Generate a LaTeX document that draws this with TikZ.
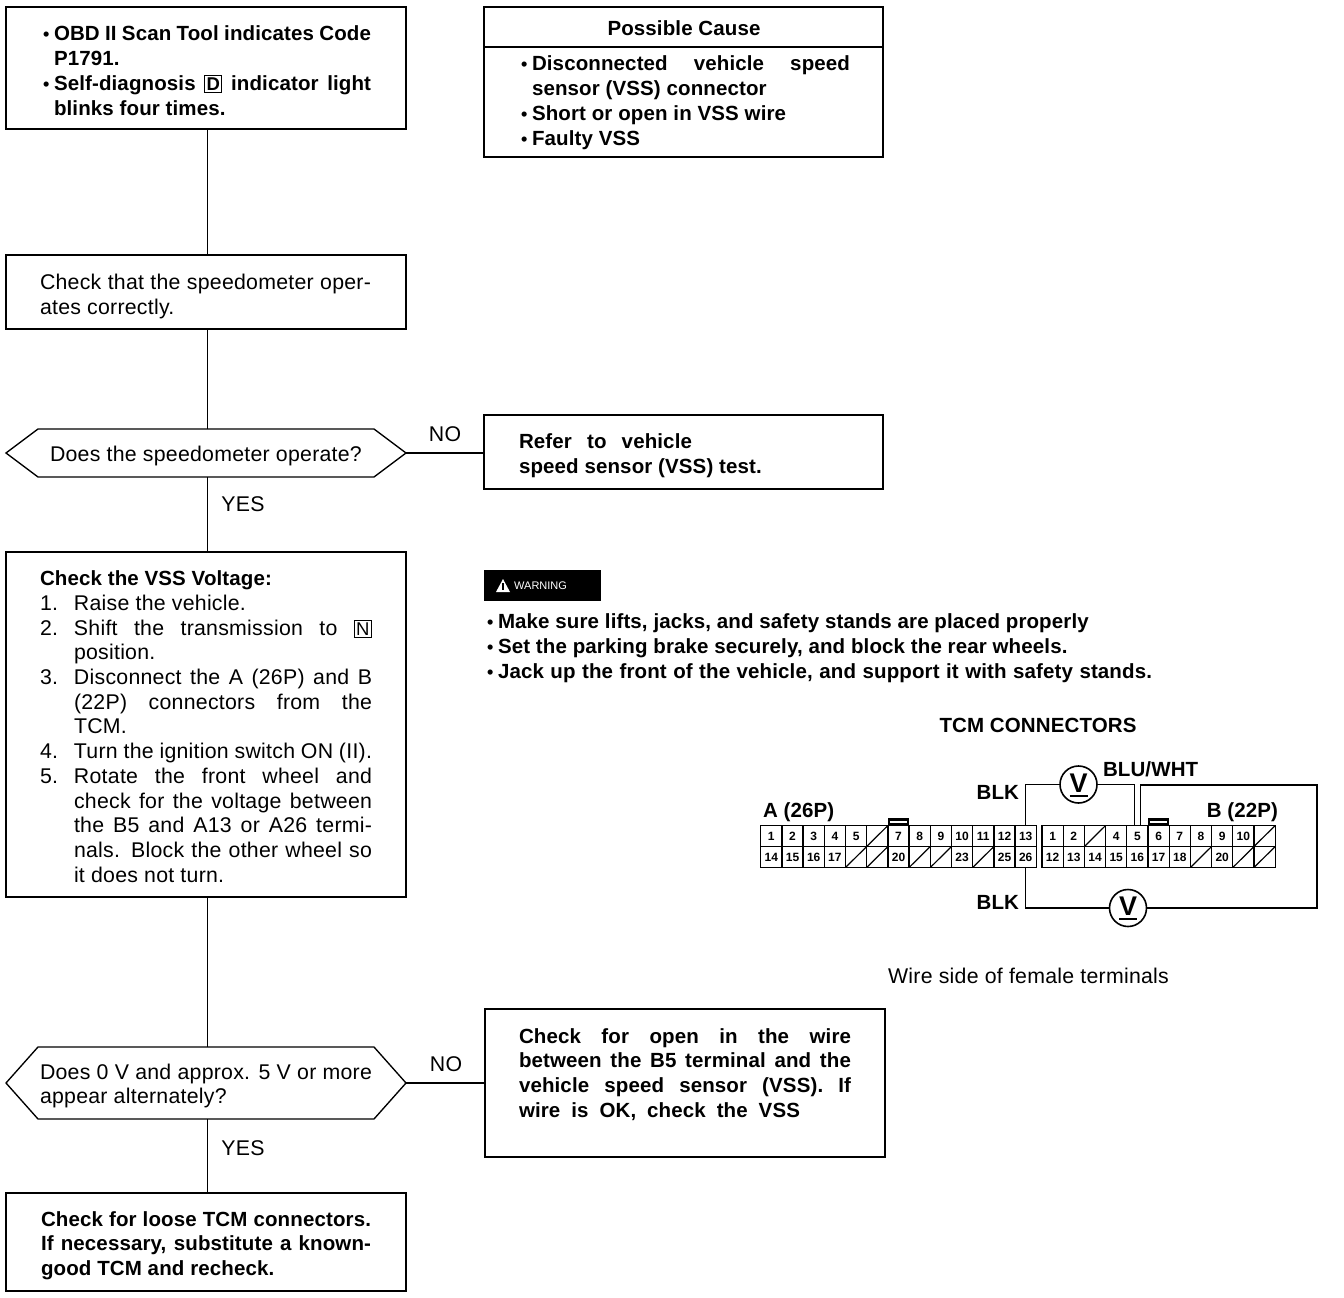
\documentclass[tikz,border=0pt]{standalone}
\usepackage{fontspec}
\setmainfont{Liberation Sans}
\usetikzlibrary{calc}
\newcommand\SL[2]{\makebox[#1pt][s]{#2}}
\newcommand\BU{\llap{{\fontsize{18}{18}\selectfont\textbullet}\hspace{4.5pt}}}
\newcommand\NUM[1]{\llap{\makebox[34pt][l]{#1}}}
\newcommand\KEY[1]{\smash{\fboxsep=1.4pt\fboxrule=1pt\fbox{\fontsize{18.5}{18.5}\selectfont #1}}}
\newcommand\BOX[5]{\node[boxnode,minimum width={(#4-#2)*1pt},minimum height={(#5-#3)*1pt}] (#1) at ({(#2+#4)/2},{(#3+#5)/2}) {};}
\newcommand\TXT[5][]{\node[txt,#1] (#2) at (#3,{#4-17.3}) {\strut #5};}
\newcommand\HEX[6]{\node[minimum width={(#4-#2)*1pt},minimum height={(#5-#3)*1pt},inner sep=0pt,outer sep=0pt] (#1) at ({(#2+#4)/2},{(#3+#5)/2}) {};
 \draw[rule] (#1.west) -- ($(#1.north west)+(#6,0)$) -- ($(#1.north east)+(-#6,0)$) -- (#1.east) -- ($(#1.south east)+(-#6,0)$) -- ($(#1.south west)+(#6,0)$) -- cycle;}
\newcommand\REG{\fontsize{21.3}{24.7}\selectfont\addfontfeature{LetterSpace=1.2}}
\newcommand\BLD{\fontsize{20.5}{24.7}\selectfont\bfseries\addfontfeature{LetterSpace=0.6}}
\tikzset{
 rule/.style={line width=1.35pt},
 wirev/.style={line width=1.8pt},
 boxnode/.style={draw,line width=1.35pt,rectangle,inner sep=0pt,outer sep=0pt},
 txt/.style={anchor=north west,inner sep=0pt,outer sep=0pt,align=left,font=\REG},
 btxt/.style={font=\BLD},
 lbl/.style={inner sep=0pt,outer sep=0pt,font=\REG},
 blbl/.style={inner sep=0pt,outer sep=0pt,font=\BLD},
 cellnode/.style={draw,line width=1.3pt,rectangle,inner sep=0pt,outer sep=0pt,minimum width=21.2pt,minimum height=21pt,font=\fontsize{12}{12}\selectfont\bfseries},
 meter/.style={draw,circle,line width=1.6pt,inner sep=0pt,outer sep=0pt,minimum size=37pt,fill=white,font=\fontsize{27}{27}\selectfont\bfseries}
}
\begin{document}
\begin{tikzpicture}[x=1pt,y=-1pt]
\useasboundingbox (0,0) rectangle (1344,1298);
% flow boxes
\BOX{s1}{6}{7}{406}{129}
\BOX{s2}{6}{255}{406}{329}
\HEX{q1}{6}{429}{406}{477}{32}
\BOX{s3}{6}{552}{406}{897}
\HEX{q2}{6}{1047}{406}{1119}{32}
\BOX{s4}{6}{1193}{406}{1291}
\BOX{cause}{484}{7}{883}{157}
\BOX{r1}{484}{415}{883}{489}
\BOX{r2}{485}{1009}{885}{1157}
% connectors
\draw[wirev] ([xshift=1.5pt]s1.south) -- ([xshift=1.5pt]s2.north);
\draw[wirev] ([xshift=1.5pt]s2.south) -- ([xshift=1.5pt]q1.north);
\draw[wirev] ([xshift=1.5pt]q1.south) -- ([xshift=1.5pt]s3.north);
\draw[wirev] ([xshift=1.5pt]s3.south) -- ([xshift=1.5pt]q2.north);
\draw[wirev] ([xshift=1.5pt]q2.south) -- ([xshift=1.5pt]s4.north);
\draw[rule] (q1.east) -- (q1.east -| r1.west);
\draw[rule] (q2.east) -- (q2.east -| r2.west);
% cause header
\coordinate (hl) at (484,47);
\draw[rule] (hl) -- (hl -| cause.east);
\node[blbl] (causehead) at (684,28) {Possible Cause};
% texts
\TXT[btxt]{t1}{54}{41}{\BU\SL{317}{OBD II Scan Tool indicates Code}\\P1791.\\\BU\SL{317}{Self-diagnosis \KEY{D} indicator light}\\blinks four times.}
\TXT[btxt]{t2}{532}{71}{\BU\SL{318}{Disconnected vehicle speed}\\sensor (VSS) connector\\\BU Short or open in VSS wire\\\BU Faulty VSS}
\TXT{t3}{40}{290}{\SL{331}{Check that the speedometer oper-}\\ates correctly.}
\node[lbl,anchor=base west] (t4) at (50,461) {Does the speedometer operate?};
\node[lbl] (no1) at (445,434) {NO};
\node[lbl] (yes1) at (243,504) {YES};
\TXT[btxt]{t5}{519}{449}{\SL{173}{Refer to  vehicle}\\speed sensor (VSS) test.}
\node[blbl,anchor=base west] (t6h) at (40,585) {Check the VSS Voltage:};
\TXT{t6}{74}{610.5}{\NUM{1.}Raise the vehicle.\\
\NUM{2.}\SL{298}{Shift the transmission to \KEY{N}}\\
position.\\
\NUM{3.}\SL{298}{Disconnect the A (26P) and B}\\
\SL{298}{(22P) connectors from the}\\
TCM.\\
\NUM{4.}\SL{298}{Turn the ignition switch ON (II).}\\
\NUM{5.}\SL{298}{Rotate the front wheel and}\\
\SL{298}{check for the voltage between}\\
\SL{298}{the B5 and A13 or A26 termi-}\\
\SL{298}{nals. Block the other wheel so}\\
it does not turn.}
\TXT{t7}{40}{1079}{\SL{332}{Does 0 V and approx. 5 V or more}\\appear alternately?}
\node[lbl] (no2) at (446,1064) {NO};
\node[lbl] (yes2) at (243,1148) {YES};
\TXT[btxt]{t8}{519}{1043}{\SL{332}{Check for open in the wire}\\\SL{332}{between the B5 terminal and the}\\\SL{332}{vehicle speed sensor (VSS). If}\\\SL{281}{wire is OK, check the VSS}}
\TXT[btxt]{t9}{41}{1226}{\SL{330}{Check for loose TCM connectors.}\\\SL{330}{If necessary, substitute a known-}\\good TCM and recheck.}
% warning
\node[fill=black,minimum width=117pt,minimum height=31pt,inner sep=0pt,outer sep=0pt] (warn) at (542.5,585.5) {};
\fill[white] (496,592) -- (503,579) -- (510,592) -- cycle;
\draw[black,line width=1.2pt] (503,583) -- (503,590);
\node[inner sep=0pt,text=white,font=\fontsize{11}{12}\selectfont,anchor=west] (warnt) at (514,586) {WARNING};
\TXT[btxt]{t10}{498}{629}{\BU Make sure lifts, jacks, and safety stands are placed properly\\\BU Set the parking brake securely, and block the rear wheels.\\\BU \SL{654}{Jack up the front of the vehicle, and support it with safety stands.}}
\node[blbl] (tcm) at (1038,725) {TCM CONNECTORS};
\node[lbl] (wire) at (1028.5,976) {Wire side of female terminals};
% connector A
\node[blbl,anchor=base west] (alab) at (763,817) {A (26P)};
\node[blbl,anchor=base east] (blab) at (1278,817) {B (22P)};
\node[blbl,anchor=east] (blk1) at (1019,792) {BLK};
\node[blbl,anchor=east] (blk2) at (1019,902) {BLK};
\node[blbl,anchor=west] (bluw) at (1103,769) {BLU/WHT};
\def\xx{x}
\foreach \lab [count=\c] in {1,2,3,4,5,x,7,8,9,10,11,12,13}{
  \node[cellnode] (a\c) at ({760.7+21.2*(\c-0.5)},836) {\ifx\lab\xx\else\lab\fi};
  \ifx\lab\xx \draw[line width=1.2pt] (a\c.south west) -- (a\c.north east); \fi
}
\foreach \lab [count=\c from 14] in {14,15,16,17,x,x,20,x,x,23,x,25,26}{
  \node[cellnode] (a\c) at ({760.7+21.2*(\c-13-0.5)},857) {\ifx\lab\xx\else\lab\fi};
  \ifx\lab\xx \draw[line width=1.2pt] (a\c.south west) -- (a\c.north east); \fi
}
\foreach \lab [count=\c] in {1,2,x,4,5,6,7,8,9,10,x}{
  \node[cellnode] (b\c) at ({1042+21.2*(\c-0.5)},836) {\ifx\lab\xx\else\lab\fi};
  \ifx\lab\xx \draw[line width=1.2pt] (b\c.south west) -- (b\c.north east); \fi
}
\foreach \lab [count=\c from 12] in {12,13,14,15,16,17,18,x,20,x,x}{
  \node[cellnode] (b\c) at ({1042+21.2*(\c-11-0.5)},857) {\ifx\lab\xx\else\lab\fi};
  \ifx\lab\xx \draw[line width=1.2pt] (b\c.south west) -- (b\c.north east); \fi
}
% latch tabs
\fill[black] (a7.north west) rectangle ($(a7.north east)+(0,-8)$);
\fill[white] ($(a7.north west)+(2,-3)$) rectangle ($(a7.north east)+(-2,-5)$);
\fill[black] (b6.north west) rectangle ($(b6.north east)+(0,-8)$);
\fill[white] ($(b6.north west)+(2,-3)$) rectangle ($(b6.north east)+(-2,-5)$);
% meters
\node[meter] (m1) at (1078.5,784.5) {\raisebox{3pt}{V}};
\node[meter] (m2) at (1128,908) {\raisebox{3pt}{V}};
\draw[line width=2pt] ($(m1.center)+(-9,11)$) -- ($(m1.center)+(9,11)$);
\draw[line width=2pt] ($(m2.center)+(-9,11)$) -- ($(m2.center)+(9,11)$);
\coordinate (w1) at (1317,785);
\coordinate (w2) at (1317,908);
\draw[rule] (a13.north) |- (m1.west);
\draw[rule] (m1.east) -| ([xshift=-3pt]b5.north);
\draw[rule] ([xshift=3pt]b5.north) |- (w1) -- (w2) -- (m2.east);
\draw[rule] (m2.west) -| (a26.south);
\end{tikzpicture}
\end{document}
